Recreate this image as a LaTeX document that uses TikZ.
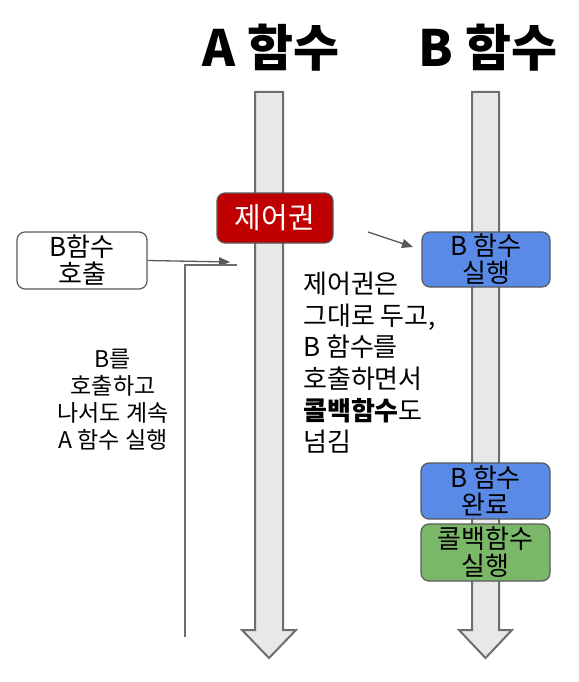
\documentclass[tikz,border=0pt]{standalone}
\usepackage{fontspec}
\setmainfont{Noto Sans CJK KR}
\usepackage{xcolor}
\usetikzlibrary{arrows.meta}

\definecolor{shaftgray}{RGB}{232,232,232}
\definecolor{edgegray}{RGB}{110,110,110}
\definecolor{linegray}{RGB}{90,90,90}
\definecolor{ctrlred}{RGB}{192,0,0}
\definecolor{funcblue}{RGB}{88,138,230}
\definecolor{cbgreen}{RGB}{122,183,104}

\begin{document}
\begin{tikzpicture}[
    x=1pt, y=-1pt,
    title/.style={
        font=\fontsize{50}{54}\selectfont\bfseries,
        inner sep=0pt
    },
    step box/.style={
        rectangle,
        rounded corners=8pt,
        draw=linegray,
        line width=1.2pt,
        minimum width=129pt,
        minimum height=56pt,
        inner sep=0pt,
        align=center,
        font=\fontsize{26}{27}\selectfont
    },
    note/.style={
        inner sep=0pt,
        font=\fontsize{26}{31.6}\selectfont
    },
    arrow/.style={
        -{Triangle[length=11pt,width=9pt]},
        draw=linegray,
        line width=1.3pt
    },
    timeline/.style={
        draw=edgegray,
        fill=shaftgray,
        line width=2pt,
        line join=miter
    }
]
\useasboundingbox (0,0) rectangle (578,682);

% Timelines
\filldraw[timeline] (255,92) -- (283,92) -- (283,630) -- (296,630) -- (269,658)
    -- (242,630) -- (255,630) -- cycle;
\filldraw[timeline] (472,92) -- (499,92) -- (499,630) -- (512,630) -- (485.5,658)
    -- (459,630) -- (472,630) -- cycle;

% Titles
\node[title, anchor=base] (atitle) at (271,67) {A 함수};
\node[title, anchor=base] (btitle) at (488,67) {B 함수};

% Components
\node[step box, fill=white, minimum width=130pt, minimum height=57pt] (call) at (82,260.5) {B함수\\호출};
\node[step box, fill=ctrlred, text=white, minimum width=116pt, minimum height=50pt,
      font=\fontsize{29}{30}\selectfont] (control) at (275,218) {제어권};
\node[step box, fill=funcblue, minimum width=128pt, minimum height=55pt] (bexec) at (486,259.5) {B 함수\\실행};
\node[step box, fill=funcblue] (bdone) at (485.5,491) {B 함수\\완료};
\node[step box, fill=cbgreen, minimum height=57pt] (callback) at (485.5,552.5) {콜백함수\\실행};

% Notes
\node[note, anchor=north west, align=left] (passnote) at (303,272)
    {제어권은\\그대로 두고,\\B 함수를\\호출하면서\\\textbf{콜백함수}도\\넘김};
\node[note, align=center, font=\fontsize{23}{27}\selectfont] (keepnote) at (113,400)
    {B를\\호출하고\\나서도 계속\\A 함수 실행};

% Arrows
\coordinate (calltip) at (230,262);
\coordinate (ctrlfrom) at (368,232);
\coordinate (ctrlto) at (413,247);
\coordinate (keepbottom) at (185,637);
\coordinate (keepcorner) at (185,265);
\coordinate (keepend) at (237,265);
\draw[arrow] (call.east) -- (calltip);
\draw[arrow] (ctrlfrom) -- (ctrlto);
\draw[draw=edgegray, line width=1.3pt] (keepbottom) -- (keepcorner) -- (keepend);

\end{tikzpicture}
\end{document}
